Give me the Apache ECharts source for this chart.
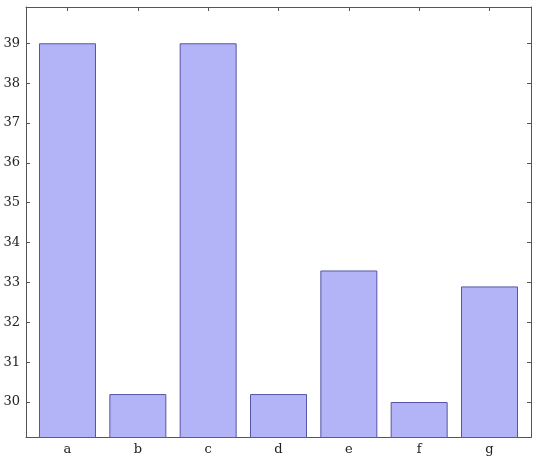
<!DOCTYPE html>
<html>
<head>
<meta charset="utf-8">
<script src="https://cdn.jsdelivr.net/npm/echarts@6/dist/echarts.min.js"></script>
<style>html,body{margin:0;padding:0;background:#fff}#c{width:540px;height:457px}</style>
</head>
<body>
<div id="c"></div>
<script>
const categories = ['a', 'b', 'c', 'd', 'e', 'f', 'g'];
const values = [39, 30.2, 39, 30.2, 33.3, 30.0, 32.9];
const yTicks = [30, 31, 32, 33, 34, 35, 36, 37, 38, 39];

const xIdx = categories.map((_, i) => i);
const font = '"DejaVu Serif", "Liberation Serif", serif';
const lineCol = '#555';

const baseX = {
  type: 'value', min: -0.59, max: 6.59,
  axisLine: {show: true, onZero: false, lineStyle: {color: lineCol, width: 1}},
  axisTick: {show: true, inside: true, length: 4, customValues: xIdx, lineStyle: {color: lineCol}},
  splitLine: {show: false}
};
const baseY = {
  type: 'value', min: 29.11, max: 39.91,
  axisLine: {show: true, onZero: false, lineStyle: {color: lineCol, width: 1}},
  axisTick: {show: true, inside: true, length: 4, customValues: yTicks, lineStyle: {color: lineCol}},
  splitLine: {show: false}
};

const chart = echarts.init(document.getElementById('c'), null, {renderer: 'canvas'});
chart.setOption({
  animation: false,
  grid: {left: 26, top: 7, right: 9, bottom: 19.5, containLabel: false},
  xAxis: [
    Object.assign({}, baseX, {position: 'bottom',
      axisLabel: {show: true, customValues: xIdx, formatter: v => categories[Math.round(v)],
        fontFamily: font, fontSize: 13, color: '#222', margin: 6}}),
    Object.assign({}, baseX, {position: 'top', axisLabel: {show: false}})
  ],
  yAxis: [
    Object.assign({}, baseY, {position: 'left',
      axisLabel: {show: true, customValues: yTicks, fontFamily: font, fontSize: 13, color: '#222', margin: 6}}),
    Object.assign({}, baseY, {position: 'right', axisLabel: {show: false}})
  ],
  series: [{
    type: 'bar',
    xAxisIndex: 0, yAxisIndex: 0,
    barWidth: 57,
    data: values.map((v, i) => [i, v]),
    itemStyle: {color: '#b3b3f8', borderColor: '#5656a8', borderWidth: 1}
  }]
});
</script>
</body>
</html>
